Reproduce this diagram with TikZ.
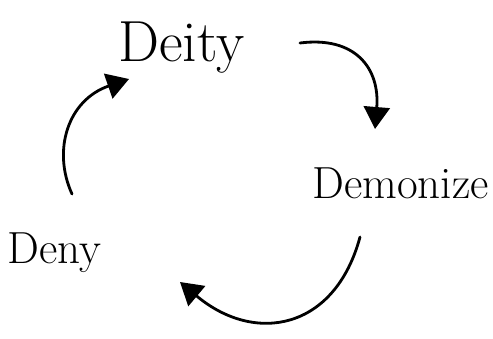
\documentclass[tikz,border=0pt]{standalone}
\usetikzlibrary{arrows.meta}

\begin{document}
\begin{tikzpicture}[x=1pt,y=-1pt,line width=2.8pt,line cap=round]

%Styles for the words and the arrows
\tikzset{word/.style={anchor=base west,inner sep=0pt},
  flow/.style={-{Triangle[length=22pt,width=26pt]}}}

\useasboundingbox (0,0) rectangle (493,339);

% Words of the cycle
\node[word,font=\fontsize{58}{58}\selectfont] (deity) at (117,62) {Deity};
\node[word,font=\fontsize{45}{45}\selectfont] (demonize) at (311,199) {Demonize};
\node[word,font=\fontsize{45}{45}\selectfont] (deny) at (6,264) {Deny};

% Ends of the arrows
\coordinate (a1) at (300,43);
\coordinate (b1) at (375,129);
\coordinate (a2) at (360,237);
\coordinate (b2) at (180,282);
\coordinate (a3) at (72,194);
\coordinate (b3) at (129,79);

% Deity to Demonize
\draw[flow] (a1) .. controls (355,36) and (380,68) .. (b1);

% Demonize to Deny
\draw[flow] (a2) .. controls (335,330) and (255,345) .. (b2);

% Deny to Deity
\draw[flow] (a3) .. controls (52,150) and (68,100) .. (b3);

\end{tikzpicture}
\end{document}
